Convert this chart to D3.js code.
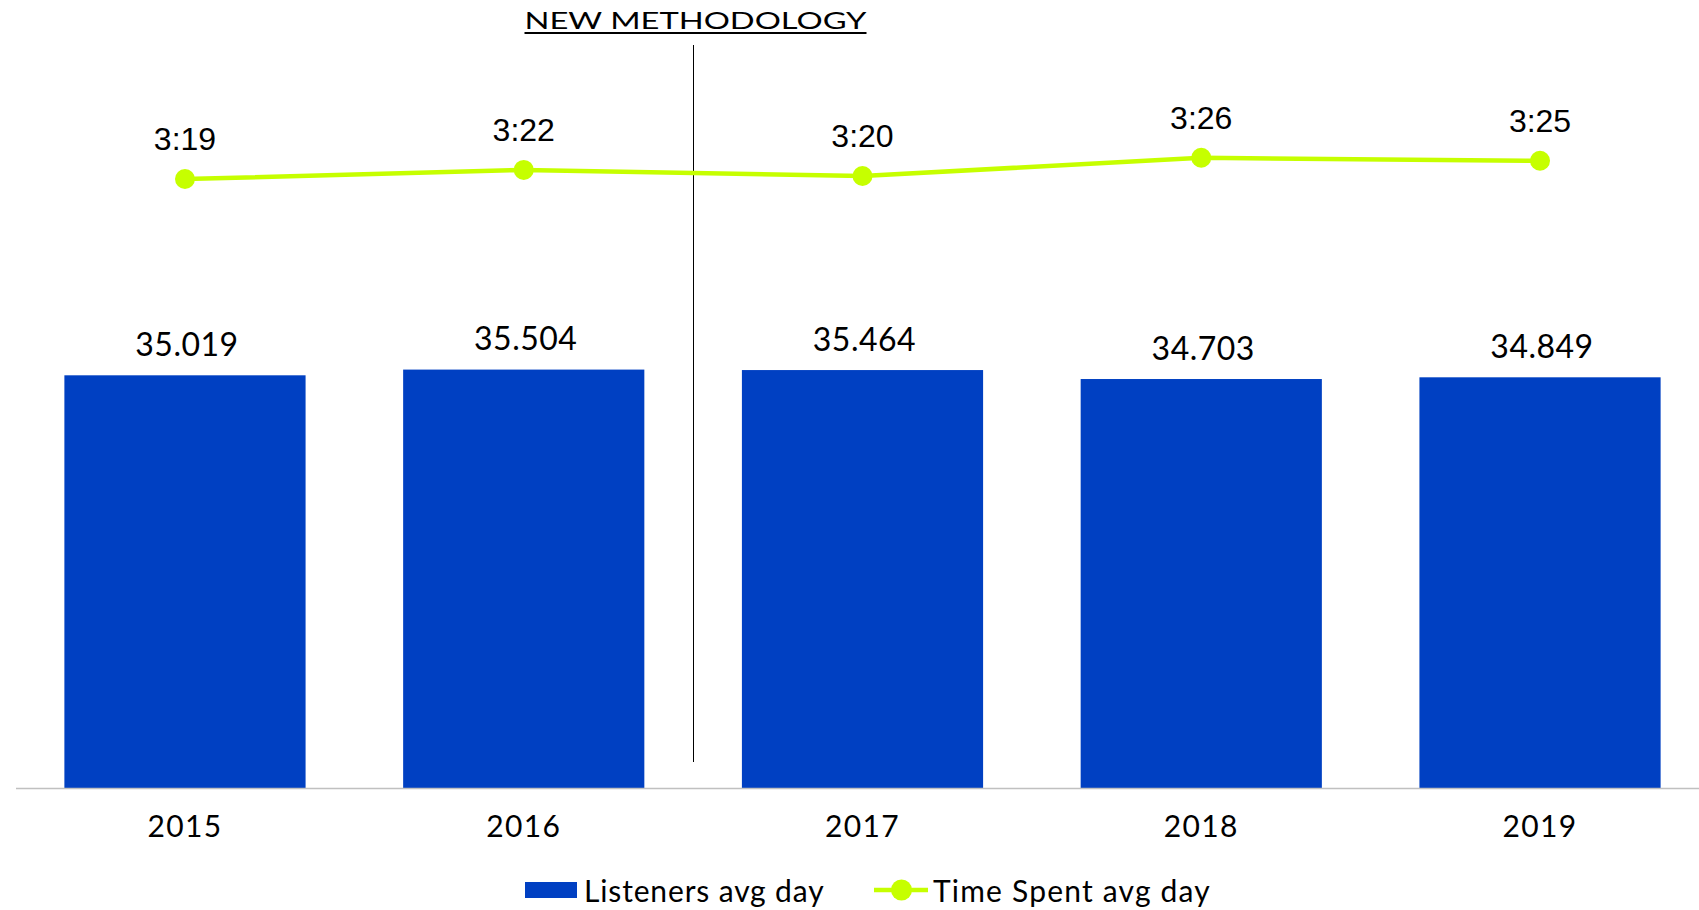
<!DOCTYPE html>
<html>
<head>
<meta charset="utf-8">
<script src="https://cdn.jsdelivr.net/npm/d3@7"></script>
<style>
  html, body { margin: 0; padding: 0; background: #fff; }
  svg { display: block; }
  .geo { font-family: Lato, "Open Sans", sans-serif; fill: #000; }
  .num { font-family: "Liberation Sans", Arial, sans-serif; fill: #000; }
</style>
</head>
<body>
<svg id="chart" width="1699" height="910"></svg>
<script>
// Yearly audience figures
const years = ["2015", "2016", "2017", "2018", "2019"];
const listeners = [35.019, 35.504, 35.464, 34.703, 34.849];
const timeSpent = ["3:19", "3:22", "3:20", "3:26", "3:25"];
const seriesNames = ["Listeners avg day", "Time Spent avg day"];
const dividerLabel = "NEW METHODOLOGY";

const barColor = "#0040c2";
const lineColor = "#c6ff00";

const toMinutes = s => { const [h, m] = s.split(":").map(Number); return h * 60 + m; };
const minutes = timeSpent.map(toMinutes);

const W = 1699, H = 910;
const baseY = 788;

const svg = d3.select("#chart");

const x = d3.scaleBand()
  .domain(years)
  .range([15.6, 1709.4])
  .paddingInner(0.288)
  .paddingOuter(0.144);

const y = d3.scaleLinear().domain([0, 40]).range([baseY, 316.6]);
// secondary scale for time spent (minutes)
const y2 = d3.scaleLinear().domain([180, 220]).range([236.8, 115.2]);

const cx = d => x(d) + x.bandwidth() / 2;

// bars
svg.append("g").selectAll("rect")
  .data(years)
  .join("rect")
  .attr("x", d => x(d))
  .attr("width", x.bandwidth())
  .attr("y", (d, i) => y(listeners[i]))
  .attr("height", (d, i) => baseY - y(listeners[i]))
  .attr("fill", barColor);

// bar value labels
svg.append("g").selectAll("text")
  .data(years)
  .join("text")
  .attr("class", "geo")
  .attr("x", d => cx(d) + 2)
  .attr("y", (d, i) => y(listeners[i]) - 19.5)
  .attr("text-anchor", "middle")
  .attr("font-size", 32)
  .attr("letter-spacing", 0.5)
  .text((d, i) => d3.format(".3f")(listeners[i]));

// category axis
const axis = svg.append("g")
  .attr("transform", `translate(0,${baseY})`)
  .call(d3.axisBottom(x).tickSize(0).tickPadding(0));
axis.select(".domain").remove();
axis.selectAll("text")
  .attr("class", "geo")
  .attr("dy", null)
  .attr("y", 49.3)
  .attr("font-size", 30)
  .attr("letter-spacing", 1.4)
  .attr("fill", "#000");

svg.append("line")
  .attr("x1", 16).attr("x2", W)
  .attr("y1", baseY + 0.5).attr("y2", baseY + 0.5)
  .attr("stroke", "#c0c0c0")
  .attr("stroke-width", 1.5);

// methodology divider between 2016 and 2017
const divX = Math.round((cx(years[1]) + cx(years[2])) / 2) + 0.5;
svg.append("line")
  .attr("x1", divX).attr("x2", divX)
  .attr("y1", 45).attr("y2", 762)
  .attr("stroke", "#000")
  .attr("stroke-width", 1);

svg.append("text")
  .attr("class", "geo")
  .attr("x", divX + 2)
  .attr("y", 29)
  .attr("text-anchor", "middle")
  .attr("font-size", 24)
  .attr("textLength", 342)
  .attr("lengthAdjust", "spacingAndGlyphs")
  .text(dividerLabel);
svg.append("line")
  .attr("x1", divX + 2 - 171).attr("x2", divX + 2 + 171)
  .attr("y1", 33).attr("y2", 33)
  .attr("stroke", "#000")
  .attr("stroke-width", 2);

// time spent line
const line = d3.line()
  .x((d, i) => cx(years[i]))
  .y(d => y2(d));

svg.append("path")
  .datum(minutes)
  .attr("d", line)
  .attr("fill", "none")
  .attr("stroke", lineColor)
  .attr("stroke-width", 4.5);

svg.append("g").selectAll("circle")
  .data(minutes)
  .join("circle")
  .attr("cx", (d, i) => cx(years[i]))
  .attr("cy", d => y2(d))
  .attr("r", 10)
  .attr("fill", lineColor);

svg.append("g").selectAll("text")
  .data(timeSpent)
  .join("text")
  .attr("class", "num")
  .attr("x", (d, i) => cx(years[i]))
  .attr("y", (d, i) => y2(minutes[i]) - 29)
  .attr("text-anchor", "middle")
  .attr("font-size", 32)
  .text(d => d);

// legend
const legend = svg.append("g");
legend.append("rect")
  .attr("x", 525).attr("y", 882)
  .attr("width", 52).attr("height", 16)
  .attr("fill", barColor);
legend.append("text")
  .attr("class", "geo")
  .attr("x", 584).attr("y", 901.7)
  .attr("font-size", 30)
  .attr("letter-spacing", 0.85)
  .text(seriesNames[0]);

legend.append("line")
  .attr("x1", 874).attr("x2", 928)
  .attr("y1", 890).attr("y2", 890)
  .attr("stroke", lineColor)
  .attr("stroke-width", 4.5);
legend.append("circle")
  .attr("cx", 901.5).attr("cy", 890)
  .attr("r", 10.5)
  .attr("fill", lineColor);
legend.append("text")
  .attr("class", "geo")
  .attr("x", 933).attr("y", 901.7)
  .attr("font-size", 30)
  .attr("letter-spacing", 1.2)
  .text(seriesNames[1]);
</script>
</body>
</html>
